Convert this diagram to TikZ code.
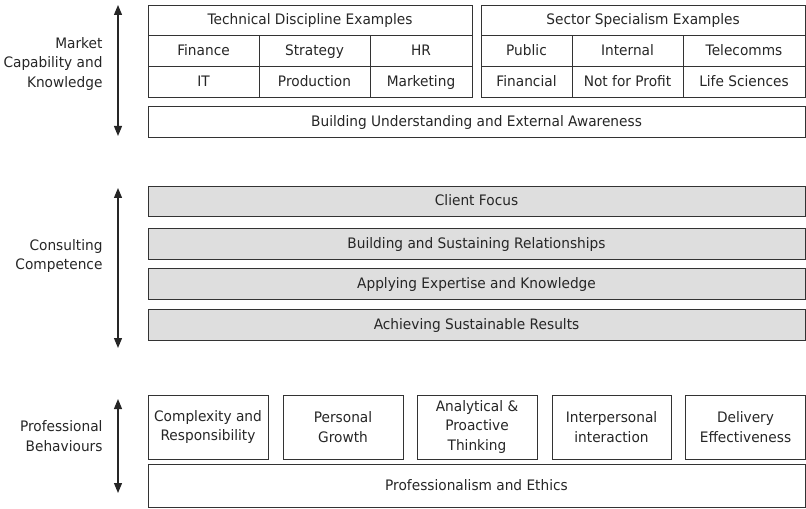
\documentclass[tikz,border=0pt]{standalone}
\usepackage{fontspec}
\setmainfont{DejaVu Sans}[FakeStretch=0.95]
\usetikzlibrary{arrows.meta}
\definecolor{boxgrey}{HTML}{DEDEDE}
\definecolor{linegrey}{HTML}{333333}
\tikzset{
    txt/.style={font=\fontsize{14.5}{19.5}\selectfont, text=black!85},
    boxbase/.style={txt, draw=linegrey, line width=0.8bp, inner sep=0pt, align=center},
    cell/.style={boxbase, minimum height=31bp, text height=12.5bp, text depth=3bp},
    band/.style={cell, minimum width=657bp},
    greyband/.style={band, fill=boxgrey},
    behbox/.style={boxbase, minimum width=120bp, minimum height=64bp},
    side/.style={txt, align=right, anchor=east},
    updown/.style={{Triangle[width=8bp,length=10bp]}-{Triangle[width=8bp,length=10bp]}, line width=1.2bp, black!85}
}
\begin{document}
\begin{tikzpicture}[x=1bp,y=-1bp]
    \useasboundingbox (0,0) rectangle (806,509);

    \node[cell, minimum width=324bp, minimum height=30bp] (techhead) at (310,20) {Technical Discipline Examples};
    \node[cell, minimum width=111bp] (finance) at (203.5,50.5) {Finance};
    \node[cell, minimum width=111bp] (strategy) at (314.5,50.5) {Strategy};
    \node[cell, minimum width=102bp] (hr) at (421,50.5) {HR};
    \node[cell, minimum width=111bp] (it) at (203.5,81.5) {IT};
    \node[cell, minimum width=111bp] (production) at (314.5,81.5) {Production};
    \node[cell, minimum width=102bp] (marketing) at (421,81.5) {Marketing};

    \node[cell, minimum width=324bp, minimum height=30bp] (sectorhead) at (643,20) {Sector Specialism Examples};
    \node[cell, minimum width=91bp] (public) at (526.5,50.5) {Public};
    \node[cell, minimum width=111bp] (internal) at (627.5,50.5) {Internal};
    \node[cell, minimum width=122bp] (telecomms) at (744,50.5) {Telecomms};
    \node[cell, minimum width=91bp] (financial) at (526.5,81.5) {Financial};
    \node[cell, minimum width=111bp] (notforprofit) at (627.5,81.5) {Not for Profit};
    \node[cell, minimum width=122bp] (lifesci) at (744,81.5) {Life Sciences};

    \node[band] (awareness) at (476.5,121.5) {Building Understanding and External Awareness};

    \node[greyband, minimum height=30bp] (client) at (476.5,201) {Client Focus};
    \node[greyband] (relations) at (476.5,243.5) {Building and Sustaining Relationships};
    \node[greyband] (expertise) at (476.5,283.5) {Applying Expertise and Knowledge};
    \node[greyband] (results) at (476.5,324.5) {Achieving Sustainable Results};

    \node[behbox] (complexity) at (208,427) {Complexity and\\Responsibility};
    \node[behbox] (growth) at (343,427) {Personal\\Growth};
    \node[behbox] (analytical) at (477,427) {Analytical \&\\Proactive\\Thinking};
    \node[behbox, minimum width=119bp] (interpersonal) at (611.5,427) {Interpersonal\\interaction};
    \node[behbox] (delivery) at (745.5,427) {Delivery\\Effectiveness};
    \node[band, minimum height=43bp] (ethics) at (476.5,485.5) {Professionalism and Ethics};

    \node[side] (market) at (106,64) {Market\\Capability and\\Knowledge};
    \node[side] (consulting) at (106,256) {Consulting\\Competence};
    \node[side] (behaviours) at (106,436) {Professional\\Behaviours};

    \coordinate (mtop) at (118,5);
    \coordinate (mbot) at (118,136);
    \coordinate (ctop) at (118,188);
    \coordinate (cbot) at (118,348);
    \coordinate (btop) at (118,399);
    \coordinate (bbot) at (118,493);
    \draw[updown] (mtop) -- (mbot);
    \draw[updown] (ctop) -- (cbot);
    \draw[updown] (btop) -- (bbot);
\end{tikzpicture}
\end{document}
